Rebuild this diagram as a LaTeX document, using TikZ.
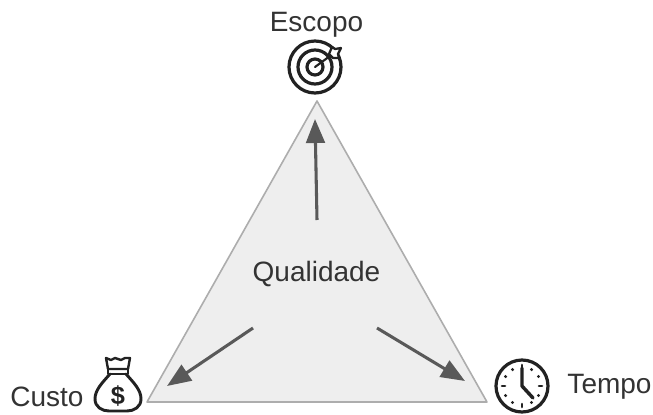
\documentclass[tikz,border=0pt]{standalone}
\usepackage{fontspec}
\setmainfont{Liberation Sans}
\usetikzlibrary{arrows.meta}
\definecolor{txt}{HTML}{333333}
\definecolor{arrowc}{HTML}{595959}
\definecolor{triline}{HTML}{ADADAD}
\definecolor{trifill}{HTML}{EEEEEE}
\definecolor{icon}{HTML}{222222}
\tikzset{
  lab/.style={text=txt,font=\fontsize{21}{25}\selectfont,inner sep=0pt},
  flowarrow/.style={draw=arrowc,line width=2.3pt,-{Triangle[length=18pt,width=14pt]}},
  iconline/.style={draw=icon,line width=2.2pt,line join=round,line cap=round}
}
\begin{document}
\begin{tikzpicture}[x=0.75pt,y=-0.75pt]
\useasboundingbox (0,0) rectangle (653,414);
% triangle
\coordinate (apex) at (317,101);
\coordinate (lft) at (147,402);
\coordinate (rgt) at (487,402);
\draw[draw=triline,fill=trifill,line width=1.2pt,line join=round] (apex) -- (lft) -- (rgt) -- cycle;
% labels
\node[lab] (q) at (316.5,274) {Qualidade};
\node[lab] (escopo) at (316.5,25) {Escopo};
\node[lab] (custo) at (47,397) {Custo};
\node[lab] (tempo) at (609.5,387) {Tempo};
% arrows
\coordinate (a1s) at (317,220); \coordinate (a1e) at (315,119);
\coordinate (a2s) at (253,328); \coordinate (a2e) at (167,386);
\coordinate (a3s) at (377,328); \coordinate (a3e) at (465,381);
\draw[flowarrow] (a1s) -- (a1e);
\draw[flowarrow] (a2s) -- (a2e);
\draw[flowarrow] (a3s) -- (a3e);
% target icon
\begin{scope}[shift={(315,67)}]
  \draw[iconline,line width=2.4pt] (0,0) circle (26);
  \draw[iconline,line width=2.4pt] (0,0) circle (17);
  \draw[iconline,line width=2.4pt] (0,0) circle (8);
  \draw[iconline,line width=1.6pt] (0,0) -- (15,-11);
  \draw[iconline,line width=1.7pt,fill=white] (14,-13) -- (17,-20) -- (20,-18) -- (26,-19) -- (23,-13) -- (24,-9) -- (18,-9) -- cycle;
\end{scope}
% money bag icon
\begin{scope}[shift={(118,385)}]
  \draw[iconline,line width=1.8pt] (-12,-27) -- (-7,-25) -- (-3,-27) -- (3,-25) -- (7,-27) -- (12,-27) -- (10,-16) -- (-10,-16) -- cycle;
  \draw[iconline,line width=1.8pt] (-10,-16) -- (-10,-11) -- (10,-11) -- (10,-16);
  \draw[iconline] (-8,-11) .. controls (-16,-2) and (-23,5) .. (-23,14) .. controls (-23,22) and (-16,26) .. (-9,26) -- (9,26) .. controls (16,26) and (23,22) .. (23,14) .. controls (23,5) and (16,-2) .. (8,-11);
  \node[text=icon,font=\fontsize{19}{19}\selectfont\bfseries,inner sep=0pt] (dollar) at (0,11) {\$};
\end{scope}
% clock icon
\begin{scope}[shift={(522,386)}]
  \draw[iconline,line width=2.4pt] (0,0) circle (26);
  \draw[iconline,line width=2.6pt] (0,-18) -- (0,0) -- (11,12);
  \foreach \a in {0,180} \draw[iconline,line width=2pt] (\a:17) -- (\a:20);
  \foreach \a in {90,270} \draw[iconline,line width=2pt] (\a:18) -- (\a:21);
  \foreach \a in {30,60,120,150,210,240,300,330} \fill[icon] (\a:19) circle (1.7);
\end{scope}
\end{tikzpicture}
\end{document}
